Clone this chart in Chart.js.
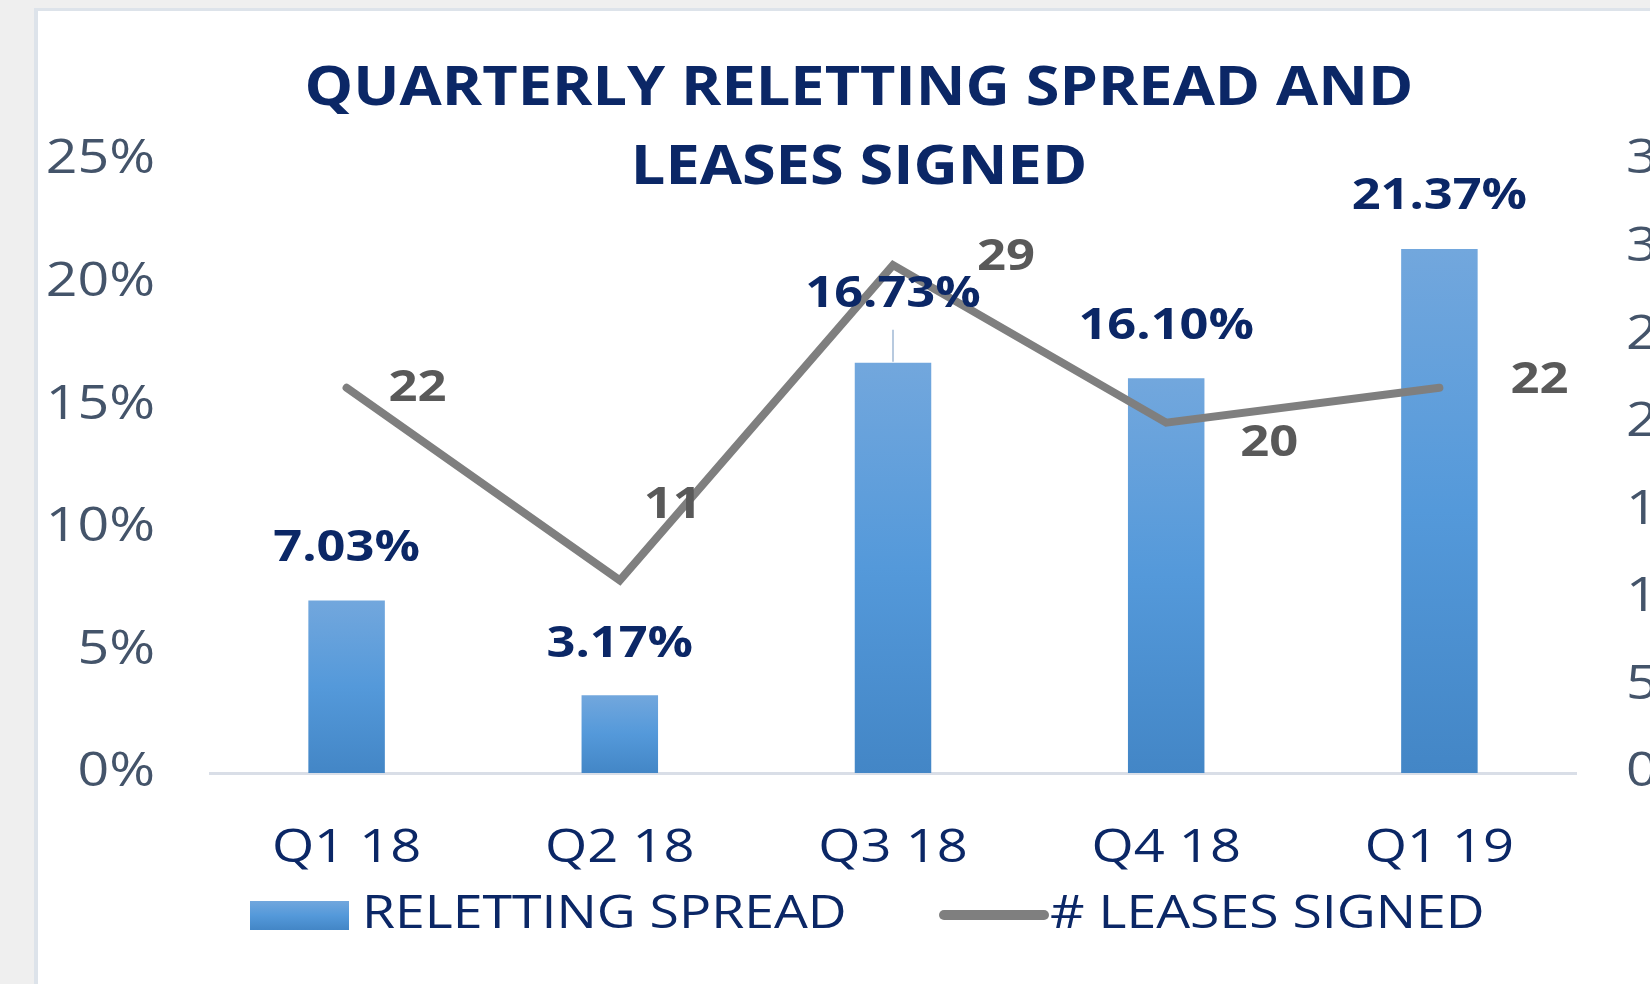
<!DOCTYPE html>
<html>
<head>
<meta charset="utf-8">
<script src="https://cdn.jsdelivr.net/npm/chart.js@4.4.1/dist/chart.umd.min.js"></script>
<style>
  html, body { margin: 0; padding: 0; width: 1650px; height: 984px; overflow: hidden; background: #efefef; }
  .panel { position: absolute; left: 34px; top: 8px; width: 1700px; height: 1000px; background: #fff; border-left: 4px solid #dde3ea; border-top: 3px solid #dde3ea; }
  #wrap { position: absolute; left: 0; top: 0; width: 1760px; height: 984px; }
</style>
</head>
<body>
<div class="panel"></div>
<div id="wrap"><canvas id="chart" width="1760" height="984"></canvas></div>
<script>
const quarters = ["Q1 18", "Q2 18", "Q3 18", "Q4 18", "Q1 19"];
const relettingSpread = [7.03, 3.17, 16.73, 16.10, 21.37];
const leasesSigned = [22, 11, 29, 20, 22];
const spreadTicks = [0, 5, 10, 15, 20, 25];
const leaseTicks = [0, 5, 10, 15, 20, 25, 30, 35];

const NAVY = "#0b2766";
const AXIS_GREY = "#44546a";
const LINE_GREY = "#7f7f7f";
const FONT = "'Open Sans'";

// label placement, tweaked by eye against the original
const barLabelLift = [52, 51, 68, 51, 52];
const leaderIndex = 2;
const lineLabelShift = [[71, 1], [53, -75], [113, -7], [103, 21], [100, -7]];

function barGradient(c, top, bottom) {
  const g = c.createLinearGradient(0, top, 0, bottom);
  g.addColorStop(0, "#72a7dd");
  g.addColorStop(0.5, "#5499da");
  g.addColorStop(1, "#4386c6");
  return g;
}

// the original text looks stretched sideways, so widen the glyphs
function wideText(c, text, x, y, sx, align) {
  c.save();
  c.translate(x, y);
  c.scale(sx, 1);
  c.textAlign = align;
  c.fillText(text, 0, 0);
  c.restore();
}

// same trick for the axis tick labels: chart.js translates + rotates
// each label before drawing it, so add the stretch right after the rotate
const stretchTicks = {
  id: "stretchTicks",
  beforeDraw(chart) {
    const c = chart.ctx;
    c.rotate = function (a) {
      CanvasRenderingContext2D.prototype.rotate.call(this, a);
      this.scale(1.18, 1);
    };
  },
  beforeDatasetsDraw(chart) {
    delete chart.ctx.rotate;
  }
};

const overlay = {
  id: "overlay",
  afterDraw(chart) {
    const c = chart.ctx;
    delete c.rotate;
    c.save();
    c.textBaseline = "middle";

    // title
    c.fillStyle = NAVY;
    c.font = `bold 53px ${FONT}`;
    wideText(c, "QUARTERLY RELETTING SPREAD AND", 859, 90, 1.155, "center");
    wideText(c, "LEASES SIGNED", 859, 169, 1.155, "center");

    // bar value labels
    const bars = chart.getDatasetMeta(1);
    c.font = `bold 43px ${FONT}`;
    bars.data.forEach((el, i) => {
      if (i === leaderIndex) {
        c.strokeStyle = "#b8cadf";
        c.lineWidth = 2;
        c.beginPath();
        c.moveTo(el.x, el.y - 1);
        c.lineTo(el.x, el.y - 33);
        c.stroke();
      }
      c.fillStyle = NAVY;
      wideText(c, relettingSpread[i].toFixed(2) + "%", el.x, el.y - barLabelLift[i], 1.175, "center");
    });

    // line value labels
    const pts = chart.getDatasetMeta(0);
    c.fillStyle = "#595959";
    pts.data.forEach((el, i) => {
      const [dx, dy] = lineLabelShift[i];
      wideText(c, String(leasesSigned[i]), el.x + dx, el.y + dy, 1.18, "center");
    });

    // legend
    const ly = 915;
    c.fillStyle = barGradient(c, 901, 930);
    c.fillRect(250, 901, 99, 29);
    c.fillStyle = NAVY;
    c.font = `45px ${FONT}`;
    wideText(c, chart.data.datasets[1].label, 362, ly, 1.19, "left");

    c.strokeStyle = LINE_GREY;
    c.lineWidth = 10;
    c.lineCap = "round";
    c.beginPath();
    c.moveTo(944, ly);
    c.lineTo(1044, ly);
    c.stroke();
    wideText(c, chart.data.datasets[0].label, 1050, ly, 1.19, "left");

    c.restore();
  }
};

new Chart(document.getElementById("chart"), {
  type: "bar",
  data: {
    labels: quarters,
    datasets: [
      {
        type: "line",
        label: "# LEASES SIGNED",
        data: leasesSigned,
        yAxisID: "y1",
        borderColor: LINE_GREY,
        borderWidth: 8,
        borderCapStyle: "round",
        borderJoinStyle: "miter",
        pointRadius: 0,
        tension: 0,
        order: 0
      },
      {
        type: "bar",
        label: "RELETTING SPREAD",
        data: relettingSpread,
        yAxisID: "y",
        backgroundColor: (ctx) => {
          const chart = ctx.chart;
          const y = chart.scales.y;
          if (!y || ctx.raw == null) return "#5b9bd5";
          const top = y.getPixelForValue(ctx.raw);
          const bottom = y.getPixelForValue(0);
          if (!isFinite(top) || !isFinite(bottom)) return "#5b9bd5";
          return barGradient(chart.ctx, top, bottom);
        },
        borderWidth: 0,
        categoryPercentage: 1,
        barPercentage: 0.28,
        order: 1
      }
    ]
  },
  options: {
    responsive: false,
    devicePixelRatio: 1,
    animation: false,
    layout: { padding: { top: 160, bottom: 0, left: 0, right: 0 } },
    plugins: {
      legend: { display: false },
      tooltip: { enabled: false },
      title: { display: false }
    },
    scales: {
      x: {
        grid: { display: false, drawTicks: false },
        border: { display: true, color: "#d9dee7", width: 3 },
        ticks: { color: NAVY, font: { family: FONT, size: 46 }, padding: 48 },
        afterFit: (s) => { s.height = 211; }
      },
      y: {
        position: "left",
        min: 0,
        max: 25,
        afterBuildTicks: (s) => { s.ticks = spreadTicks.map((v) => ({ value: v })); },
        ticks: {
          color: AXIS_GREY,
          font: { family: FONT, size: 47 },
          padding: 55,
          callback: (v) => v + "%"
        },
        grid: { display: false, drawTicks: false },
        border: { display: false },
        afterFit: (s) => { s.width = 210; }
      },
      y1: {
        position: "right",
        min: 0,
        max: 35,
        afterBuildTicks: (s) => { s.ticks = leaseTicks.map((v) => ({ value: v })); },
        ticks: { color: AXIS_GREY, font: { family: FONT, size: 47 }, padding: 50 },
        grid: { display: false, drawTicks: false },
        border: { display: false },
        afterFit: (s) => { s.width = 184; }
      }
    }
  },
  plugins: [stretchTicks, overlay]
});
</script>
</body>
</html>
